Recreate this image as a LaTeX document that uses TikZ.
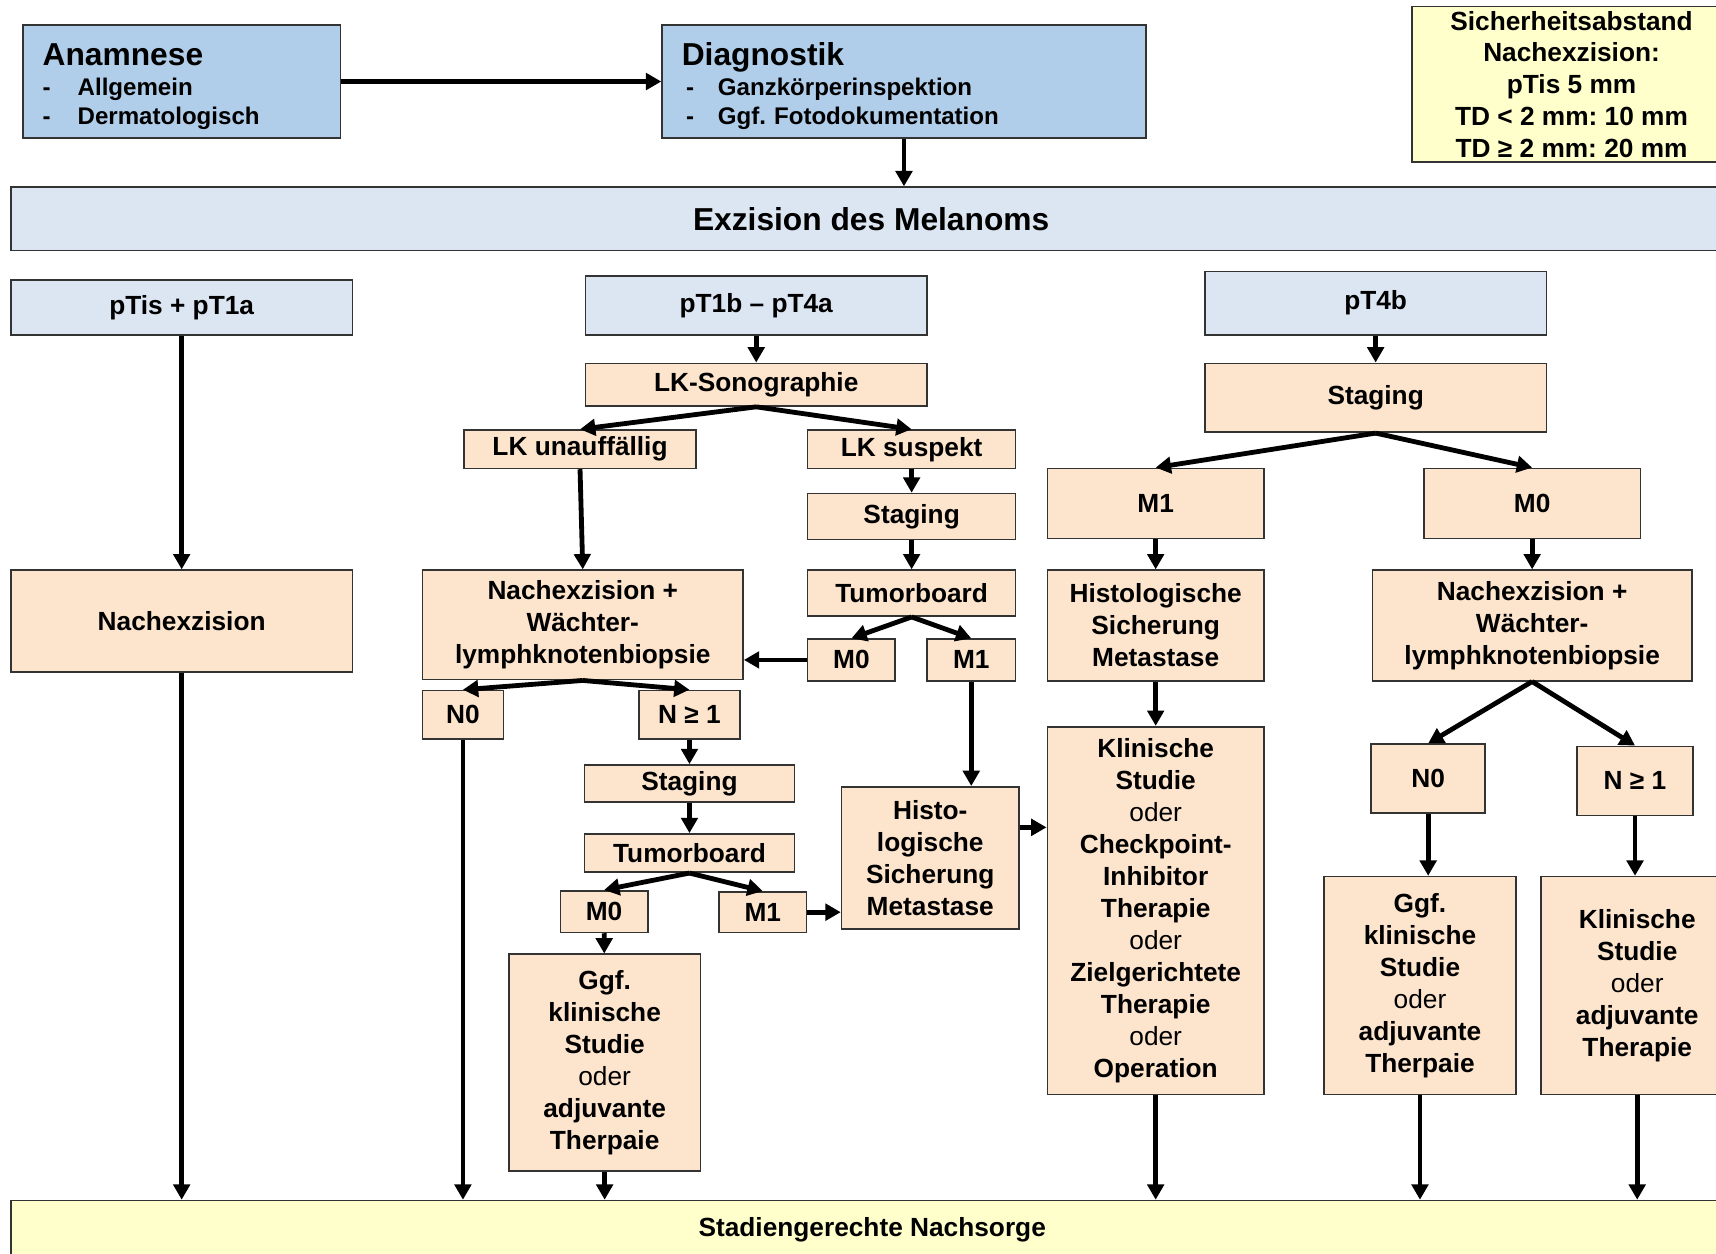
\documentclass[tikz,border=0pt]{standalone}
\usepackage{fontspec}
\setmainfont{Liberation Sans}
\usepackage{tikz}
\usetikzlibrary{arrows.meta,positioning}
\definecolor{diagblue}{RGB}{176,205,234}
\definecolor{headblue}{RGB}{220,230,242}
\definecolor{therapyorange}{RGB}{253,228,205}
\definecolor{noteyellow}{RGB}{255,255,204}
\newcommand{\oder}{{\mdseries oder}}
\frenchspacing

\begin{document}
\begin{tikzpicture}[x=0.5pt,y=-0.5pt,
    box/.style={draw=black!80,line width=0.75pt,inner sep=1pt,align=center,
      font=\fontsize{12}{14.6}\selectfont\bfseries},
    bluebox/.style={box,fill=diagblue,align=left,inner xsep=9pt,
      font=\fontsize{11}{13}\selectfont\bfseries},
    headbox/.style={box,fill=headblue},
    stepbox/.style={box,fill=therapyorange},
    notebox/.style={box,fill=noteyellow},
    arr/.style={-{Triangle[length=7pt,width=7.5pt]},line width=2.2pt}]
    \useasboundingbox (0,0) rectangle (1568,1145);

    % Anamnese and Diagnostik
    \node[bluebox,text width=127pt,minimum height=51.5pt] (anam) at (166,74.5)
      {\rule{0pt}{14.4pt}{\fontsize{14.5}{16}\selectfont Anamnese}\\[1pt]
       \makebox[16pt][l]{-}Allgemein\\
       \makebox[16pt][l]{-}Dermatologisch};
    \node[bluebox,text width=203pt,minimum height=51.5pt] (diag) at (826,74.5)
      {\rule{0pt}{14.4pt}{\fontsize{14.5}{16}\selectfont Diagnostik}\\[1pt]
       \hspace{2pt}\makebox[14.5pt][l]{-}Ganzkörperinspektion\\
       \hspace{2pt}\makebox[14.5pt][l]{-}Ggf. Fotodokumentation};
    \node[notebox,minimum width=146pt,minimum height=71pt,
      font=\fontsize{12}{14.5}\selectfont\bfseries] (sicher) at (1436,77)
      {Sicherheitsabstand\\Nachexzision:\\pTis 5 mm\\TD < 2 mm: 10 mm\\TD ≥ 2 mm: 20 mm};
    \draw[arr] (anam) -- (diag);

    % Exzision
    \node[headbox,minimum width=786pt,minimum height=29pt,
      font=\fontsize{14.5}{16}\selectfont\bfseries] (exz) at (796,200) {Exzision des Melanoms};
    \draw[arr] (diag.south) -- (diag.south |- exz.north);

    % pTis + pT1a
    \node[headbox,minimum width=156pt,minimum height=25pt] (ptis) at (166,281) {pTis + pT1a};
    \node[stepbox,minimum width=156pt,minimum height=46.5pt] (nachex) at (166,567.5) {Nachexzision};
    \draw[arr] (ptis) -- (nachex);

    % pT1b - pT4a
    \node[headbox,minimum width=156pt,minimum height=27pt] (ptmid) at (691,279) {pT1b – pT4a};
    \node[stepbox,minimum width=156pt,minimum height=19.5pt] (sono) at (691,351.5) {LK-Sonographie};
    \node[stepbox,minimum width=106pt,minimum height=17.5pt] (lkun) at (530,410.5) {LK unauffällig};
    \node[stepbox,minimum width=95pt,minimum height=17.5pt] (lksus) at (833,410.5) {LK suspekt};
    \node[stepbox,minimum width=95pt,minimum height=21pt] (stagA) at (833,472) {Staging};
    \node[stepbox,minimum width=95pt,minimum height=21pt] (tbA) at (833,542) {Tumorboard};
    \node[stepbox,minimum width=40pt,minimum height=19pt] (mnullA) at (778,603) {M0};
    \node[stepbox,minimum width=40.5pt,minimum height=19pt] (meinsA) at (887.5,603) {M1};
    \node[stepbox,minimum width=146.5pt,minimum height=50pt] (nxA) at (532.5,571)
      {Nachexzision +\\Wächter-\\lymphknotenbiopsie};
    \node[stepbox,minimum width=37pt,minimum height=22pt] (nnullA) at (423,653) {N0};
    \node[stepbox,minimum width=46pt,minimum height=22pt] (neinsA) at (630,653) {N ≥ 1};
    \node[stepbox,minimum width=96pt,minimum height=17pt] (stagB) at (630,716) {Staging};
    \node[stepbox,minimum width=96pt,minimum height=17.5pt] (tbB) at (630,779.5) {Tumorboard};
    \node[stepbox,minimum width=40pt,minimum height=19pt] (mnullB) at (552,833) {M0};
    \node[stepbox,minimum width=40pt,minimum height=18.5pt] (meinsB) at (697,833.5) {M1};
    \node[stepbox,minimum width=87.5pt,minimum height=99pt] (ggfA) at (552.5,971)
      {Ggf.\\klinische\\Studie\\\oder\\adjuvante\\Therpaie};
    \node[stepbox,minimum width=81pt,minimum height=65pt] (histA) at (850,784)
      {Histo-\\logische\\Sicherung\\Metastase};

    \draw[arr] (ptmid) -- (sono);
    \draw[arr] (sono.south) -- (lkun.north);
    \draw[arr] (sono.south) -- (lksus.north);
    \draw[arr] (lkun.south) -- (nxA.north);
    \draw[arr] (lksus) -- (stagA);
    \draw[arr] (stagA) -- (tbA);
    \draw[arr] (tbA.south) -- (mnullA.north);
    \draw[arr] (tbA.south) -- (meinsA.north);
    \draw[arr] (mnullA.west) -- (mnullA.west -| nxA.east);
    \draw[arr] (meinsA.south) -- (meinsA.south |- histA.north);
    \draw[arr] (nxA.south) -- (nnullA.north);
    \draw[arr] (nxA.south) -- (neinsA.north);
    \draw[arr] (neinsA) -- (stagB);
    \draw[arr] (stagB) -- (tbB);
    \draw[arr] (tbB.south) -- (mnullB.north);
    \draw[arr] (tbB.south) -- (meinsB.north);
    \draw[arr] (mnullB) -- (ggfA);
    \draw[arr] (meinsB.east) -- (meinsB.east -| histA.west);

    % pT4b
    \node[headbox,minimum width=156pt,minimum height=29pt] (ptfb) at (1257,277) {pT4b};
    \node[stepbox,minimum width=156pt,minimum height=31.5pt] (stagC) at (1257,363.5) {Staging};
    \node[stepbox,minimum width=99pt,minimum height=32pt] (meinsC) at (1056,460) {M1};
    \node[stepbox,minimum width=99pt,minimum height=32pt] (mnullC) at (1400,460) {M0};
    \node[stepbox,minimum width=99pt,minimum height=50.5pt] (histC) at (1056,571.5)
      {Histologische\\Sicherung\\Metastase};
    \node[stepbox,minimum width=99pt,minimum height=168pt] (klinC) at (1056,832)
      {Klinische\\Studie\\\oder\\Checkpoint-\\Inhibitor\\Therapie\\\oder\\Zielgerichtete\\Therapie\\\oder\\Operation};
    \node[stepbox,minimum width=146pt,minimum height=50.5pt] (nxC) at (1400,571.5)
      {Nachexzision +\\Wächter-\\lymphknotenbiopsie};
    \node[stepbox,minimum width=52pt,minimum height=31.5pt] (nnullC) at (1305,711.5) {N0};
    \node[stepbox,minimum width=53pt,minimum height=31.5pt] (neinsC) at (1494,713.5) {N ≥ 1};
    \node[stepbox,minimum width=87.5pt,minimum height=99.5pt] (ggfC) at (1297.5,900.5)
      {Ggf.\\klinische\\Studie\\\oder\\adjuvante\\Therpaie};
    \node[stepbox,minimum width=88pt,minimum height=99.5pt] (klinD) at (1496,900.5)
      {Klinische\\Studie\\\oder\\adjuvante\\Therapie};

    \draw[arr] (ptfb) -- (stagC);
    \draw[arr] (stagC.south) -- (meinsC.north);
    \draw[arr] (stagC.south) -- (mnullC.north);
    \draw[arr] (meinsC) -- (histC);
    \draw[arr] (histC) -- (klinC);
    \draw[arr] ([yshift=14pt]histA.east) -- ([yshift=14pt]histA.east -| klinC.west);
    \draw[arr] (mnullC) -- (nxC);
    \draw[arr] (nxC.south) -- (nnullC.north);
    \draw[arr] (nxC.south) -- (neinsC.north);
    \draw[arr] (nnullC.south) -- (nnullC.south |- ggfC.north);
    \draw[arr] (neinsC.south) -- (neinsC.south |- klinD.north);

    % Nachsorge
    \node[notebox,minimum width=787pt,minimum height=27pt] (nachs) at (797,1124) {Stadiengerechte Nachsorge};
    \draw[arr] (nachex.south) -- (nachex.south |- nachs.north);
    \draw[arr] (nnullA.south) -- (nnullA.south |- nachs.north);
    \draw[arr] (ggfA.south) -- (ggfA.south |- nachs.north);
    \draw[arr] (klinC.south) -- (klinC.south |- nachs.north);
    \draw[arr] (ggfC.south) -- (ggfC.south |- nachs.north);
    \draw[arr] (klinD.south) -- (klinD.south |- nachs.north);
\end{tikzpicture}
\end{document}
